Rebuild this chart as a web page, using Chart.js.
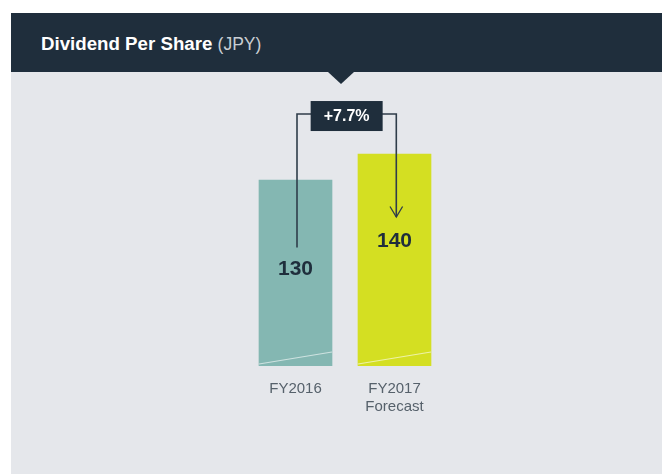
<!DOCTYPE html>
<html>
<head>
<meta charset="utf-8">
<script src="https://cdn.jsdelivr.net/npm/chart.js@4"></script>
<style>
  html, body { margin: 0; padding: 0; background: #ffffff; width: 662px; height: 474px; overflow: hidden; }
  #panel { position: absolute; left: 11px; top: 13px; width: 651px; height: 461px; background: #e5e7eb; }
  #header { position: absolute; left: 0; top: 0; width: 651px; height: 59px; background: #1f2e3c; }
  #title { position: absolute; left: 30px; top: 20px; font-family: "Liberation Sans", Arial, sans-serif; font-size: 18.7px; color: #ffffff; white-space: nowrap; }
  #title b { font-weight: bold; }
  #title span { color: #c9ced4; font-weight: normal; font-size: 17.5px; }
  #pointer { position: absolute; left: 317px; top: 59px; width: 0; height: 0; border-left: 13.5px solid transparent; border-right: 13.5px solid transparent; border-top: 12px solid #1f2e3c; }
  #wrap { position: absolute; left: 0; top: 0; width: 662px; height: 474px; }
</style>
</head>
<body>
<div id="panel">
  <div id="header"><div id="title"><b>Dividend Per Share</b> <span>(JPY)</span></div></div>
  <div id="pointer"></div>
</div>
<div id="wrap"><canvas id="c" width="662" height="474"></canvas></div>
<script>
const categories = [["FY2016"], ["FY2017", "Forecast"]];
const dividendValues = [130, 140];
const valueLabels = ["130", "140"];
const changeLabel = "+7.7%";
const barColors = ["#84b7b2", "#d4df22"];

const decorPlugin = {
  id: 'decor',
  afterDatasetsDraw(chart) {
    const ctx = chart.ctx;
    const meta = chart.getDatasetMeta(0);
    const b0 = meta.data[0], b1 = meta.data[1];
    const baseY = chart.scales.y.bottom;
    ctx.save();
    // diagonal light strokes near base of each bar
    meta.data.forEach(bar => {
      const left = bar.x - bar.width / 2, right = bar.x + bar.width / 2;
      ctx.strokeStyle = 'rgba(255,255,255,0.6)';
      ctx.lineWidth = 1.2;
      ctx.beginPath();
      ctx.moveTo(left, baseY - 2);
      ctx.lineTo(right, baseY - 14);
      ctx.stroke();
    });
    // value labels
    const labelYs = [b0.y + 89.5, b1.y + 87];
    ctx.fillStyle = '#1f2e3c';
    ctx.font = 'bold 21px "Liberation Sans", Arial, sans-serif';
    ctx.textAlign = 'center';
    ctx.textBaseline = 'middle';
    meta.data.forEach((bar, i) => ctx.fillText(valueLabels[i], bar.x, labelYs[i]));
    // bracket lines
    const lx = b0.x + 1.5, rx = b1.x + 1.8;
    const boxTop = b1.y - 53, boxH = 30, boxW = 72;
    const boxX = (lx + rx) / 2 - boxW / 2;
    const by = boxTop + 13;
    ctx.strokeStyle = '#2f3d4a';
    ctx.lineWidth = 1.6;
    ctx.beginPath();
    ctx.moveTo(lx, labelYs[0] - 22);
    ctx.lineTo(lx, by);
    ctx.lineTo(rx, by);
    const tip = labelYs[1] - 24;
    ctx.lineTo(rx, tip);
    ctx.stroke();
    ctx.lineWidth = 1.3;
    ctx.beginPath();
    ctx.moveTo(rx - 6.3, tip - 10.5);
    ctx.lineTo(rx, tip);
    ctx.lineTo(rx + 6.3, tip - 10.5);
    ctx.stroke();
    // change box
    ctx.fillStyle = '#1f2e3c';
    ctx.fillRect(boxX, boxTop, boxW, boxH);
    ctx.fillStyle = '#ffffff';
    ctx.font = 'bold 16px "Liberation Sans", Arial, sans-serif';
    ctx.fillText(changeLabel, boxX + boxW / 2, boxTop + boxH / 2 + 0.5);
    ctx.restore();
  }
};

new Chart(document.getElementById('c'), {
  type: 'bar',
  data: {
    labels: categories,
    datasets: [{
      data: dividendValues,
      backgroundColor: barColors,
      borderWidth: 0,
      barThickness: 73
    }]
  },
  options: {
    responsive: false,
    animation: false,
    events: [],
    layout: { padding: { left: 246, right: 218, top: 76, bottom: 44 } },
    plugins: { legend: { display: false }, tooltip: { enabled: false }, title: { display: false } },
    scales: {
      x: {
        grid: { display: false, drawTicks: false },
        border: { display: false },
        ticks: {
          padding: 14,
          color: '#56616b',
          font: { family: '"Liberation Sans", Arial, sans-serif', size: 15, lineHeight: 1.2 }
        }
      },
      y: {
        display: false,
        min: 58.5,
        max: 170
      }
    }
  },
  plugins: [decorPlugin]
});
</script>
</body>
</html>
